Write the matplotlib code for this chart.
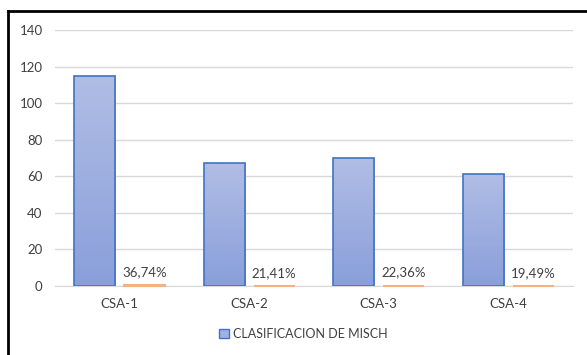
import numpy as np
import matplotlib.pyplot as plt
from matplotlib.colors import LinearSegmentedColormap
from matplotlib.lines import Line2D
from matplotlib.patches import Patch

categories = ['CSA-1', 'CSA-2', 'CSA-3', 'CSA-4']
misch = [115, 67, 70, 61]
porcentaje = [0.3674, 0.2141, 0.2236, 0.1949]
etiquetas = ['36,74%', '21,41%', '22,36%', '19,49%']

plt.rcParams['font.family'] = ['Lato', 'DejaVu Sans']

fig = plt.figure(figsize=(5.87, 3.55), dpi=100)
ax = fig.add_axes([55 / 587, 1 - 286 / 355, 518 / 587, 256 / 355])

x = np.arange(len(categories))
w = 0.317
off = 0.193

# barras con degradado vertical
grad = LinearSegmentedColormap.from_list('g', ['#8A9FDA', '#B0BDE5'])
bars = ax.bar(x - off, misch, w, facecolor='none', edgecolor='#4472C4', linewidth=1.2, zorder=3)
for b in bars:
    x0, y0 = b.get_x(), b.get_y()
    img = ax.imshow(np.linspace(0, 1, 100).reshape(-1, 1), cmap=grad, origin='lower',
                    extent=[x0, x0 + b.get_width(), y0, y0 + b.get_height()],
                    aspect='auto', zorder=2)
    img.set_clip_path(b)

ob = ax.bar(x + off, porcentaje, w, color='#ED7D31', edgecolor='#F4B183', linewidth=1.5, zorder=4)
for p in ob:
    p.set_clip_on(False)
for xi, v, t in zip(x, porcentaje, etiquetas):
    ax.annotate(t, (xi + off, v), xytext=(0, 5), textcoords='offset points',
                ha='center', va='bottom', fontsize=9.5, color='#404040')

ax.set_xlim(-0.5, 3.5)
ax.set_ylim(0, 140)
ax.set_yticks(range(0, 141, 20))
ax.set_xticks(x)
ax.set_xticklabels(categories)
ax.yaxis.grid(True, color='#D9D9D9', linewidth=1)
ax.set_axisbelow(True)
for s in ['top', 'right', 'left']:
    ax.spines[s].set_visible(False)
ax.spines['bottom'].set_color('#D9D9D9')
ax.tick_params(length=0, labelsize=9.5, labelcolor='#404040')
ax.tick_params(axis='y', pad=9)
ax.tick_params(axis='x', pad=9)

h = Patch(facecolor='#A0B2E2', edgecolor='#4472C4')
fig.legend([h], ['CLASIFICACION DE MISCH'], loc='center', bbox_to_anchor=(303 / 587, 1 - 334 / 355),
           frameon=False, fontsize=9, handlelength=0.8, handleheight=0.8, handletextpad=0.3,
           labelcolor='#404040')

fig.add_artist(Line2D([8 / 587, 8 / 587], [0, 1 - 11 / 355], color='black', linewidth=2))
fig.add_artist(Line2D([8 / 587, 1], [1 - 11 / 355, 1 - 11 / 355], color='black', linewidth=2))

fig.savefig('out.png', dpi=100)
